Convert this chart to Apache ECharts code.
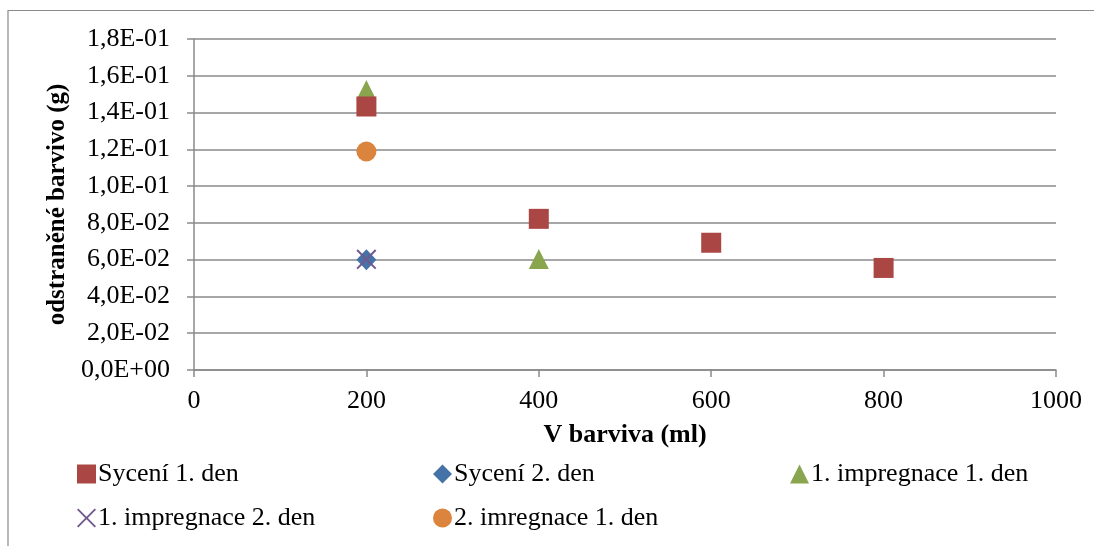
<!DOCTYPE html>
<html>
<head>
<meta charset="utf-8">
<style>
  html, body { margin: 0; padding: 0; background: #ffffff; }
  #chart { width: 1094px; height: 546px; }
</style>
<script src="https://cdn.jsdelivr.net/npm/echarts@6/dist/echarts.min.js"></script>
</head>
<body>
<div id="chart"></div>
<script>
// Series names
const seriesNames = [
  'Sycení 1. den',
  'Sycení 2. den',
  '1. impregnace 1. den',
  '1. impregnace 2. den',
  '2. imregnace 1. den'
];

// V barviva (ml) / odstraněné barvivo (g) for each series
const syceni1X = [200, 400, 600, 800];
const syceni1Y = [0.1433, 0.0822, 0.0692, 0.0555];

const syceni2X = [200];
const syceni2Y = [0.0600];

const impregnace1Den1X = [200, 400];
const impregnace1Den1Y = [0.1522, 0.0603];

const impregnace1Den2X = [200];
const impregnace1Den2Y = [0.0602];

const imregnace2Den1X = [200];
const imregnace2Den1Y = [0.1188];

// Axis tick labels
const xTickLabels = ['0', '200', '400', '600', '800', '1000'];
const yTickLabels = [
  '0,0E+00', '2,0E-02', '4,0E-02', '6,0E-02', '8,0E-02',
  '1,0E-01', '1,2E-01', '1,4E-01', '1,6E-01', '1,8E-01'
];

const colors = ['#AA4643', '#4572A7', '#89A54E', '#71588F', '#DB843D'];
const crossPath = 'path://M0,0.7L0.7,0L5,4.3L9.3,0L10,0.7L5.7,5L10,9.3L9.3,10L5,5.7L0.7,10L0,9.3L4.3,5Z';
const symbols = ['rect', 'diamond', 'triangle', crossPath, 'circle'];
const symbolSizes = [20, [20, 21], 20, 20, 20];
const zOrder = [4, 2, 3, 5, 2];

const pairs = (xs, ys) => xs.map((x, i) => [x, ys[i]]);
const seriesData = [
  pairs(syceni1X, syceni1Y),
  pairs(syceni2X, syceni2Y),
  pairs(impregnace1Den1X, impregnace1Den1Y),
  pairs(impregnace1Den2X, impregnace1Den2Y),
  pairs(imregnace2Den1X, imregnace2Den1Y)
];

const font = 'Liberation Serif';
const gray = '#8a8a8a';

// Legend laid out as a fixed two-row grid
const legendSpots = [
  { left: 77, top: 461 },
  { left: 433, top: 461 },
  { left: 790, top: 461 },
  { left: 77, top: 505 },
  { left: 433, top: 505 }
];

const chart = echarts.init(document.getElementById('chart'), null, { renderer: 'canvas' });

chart.setOption({
  animation: false,
  backgroundColor: '#ffffff',
  color: colors,
  graphic: [{
    type: 'rect',
    silent: true,
    shape: { x: 8, y: 10.5, width: 1300, height: 800 },
    style: { fill: 'none', stroke: gray, lineWidth: 1.2 }
  }],
  grid: { left: 194, right: 38, top: 39, bottom: 176 },
  legend: seriesNames.map((name, i) => ({
    data: [{ name: name, icon: symbols[i] }],
    left: legendSpots[i].left,
    top: legendSpots[i].top,
    padding: 0,
    itemWidth: 19,
    itemHeight: 19,
    selectedMode: false,
    textStyle: { fontFamily: font, fontSize: 26, color: '#000000', padding: [0, 0, 0, -3] }
  })),
  xAxis: {
    type: 'value',
    min: 0,
    max: 1000,
    interval: 200,
    name: 'V barviva (ml)',
    nameLocation: 'middle',
    nameGap: 52,
    nameTextStyle: { fontFamily: font, fontSize: 26, fontWeight: 'bold', color: '#000000' },
    axisLine: { show: true, lineStyle: { color: gray, width: 1.5 } },
    axisTick: { show: true, length: 7, lineStyle: { color: gray, width: 1.5 } },
    axisLabel: {
      fontFamily: font, fontSize: 26, color: '#000000', margin: 18,
      formatter: (value, index) => xTickLabels[index]
    },
    splitLine: { show: false }
  },
  yAxis: {
    type: 'value',
    min: 0,
    max: 0.18,
    interval: 0.02,
    name: 'odstraněné barvivo (g)',
    nameLocation: 'middle',
    nameGap: 120,
    nameTextStyle: { fontFamily: font, fontSize: 25, fontWeight: 'bold', color: '#000000' },
    axisLine: { show: true, lineStyle: { color: gray, width: 1.5 } },
    axisTick: { show: true, length: 7, lineStyle: { color: gray, width: 1.5 } },
    axisLabel: {
      fontFamily: font, fontSize: 26, color: '#000000', margin: 24,
      formatter: (value, index) => yTickLabels[index]
    },
    splitLine: { show: true, lineStyle: { color: gray, width: 1.5 } }
  },
  series: seriesNames.map((name, i) => ({
    name: name,
    type: 'scatter',
    data: seriesData[i],
    symbol: symbols[i],
    symbolSize: symbolSizes[i],
    z: zOrder[i],
    itemStyle: { color: colors[i], opacity: 1 }
  }))
});
</script>
</body>
</html>
